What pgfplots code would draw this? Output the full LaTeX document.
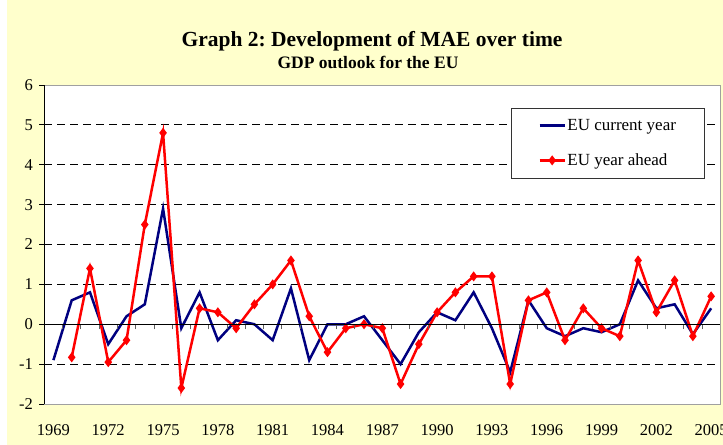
\documentclass[border=0pt]{standalone}
\usepackage{pgfplots}
\pgfplotsset{compat=1.18}
\usepackage{pgfplotstable}
\usepackage{fontspec}
\setmainfont{Liberation Serif}
\frenchspacing
\definecolor{bgyellow}{HTML}{FFFFCC}
\definecolor{navy}{HTML}{000080}
\definecolor{frgray}{HTML}{A0A0A0}

\pgfplotstableread{
year cur
1969 -0.9
1970 0.6
1971 0.8
1972 -0.5
1973 0.2
1974 0.5
1975 2.9
1976 -0.1
1977 0.8
1978 -0.4
1979 0.1
1980 0.0
1981 -0.4
1982 0.9
1983 -0.9
1984 0.0
1985 0.0
1986 0.2
1987 -0.4
1988 -1.0
1989 -0.2
1990 0.3
1991 0.1
1992 0.8
1993 -0.1
1994 -1.2
1995 0.6
1996 -0.1
1997 -0.3
1998 -0.1
1999 -0.2
2000 0.0
2001 1.1
2002 0.4
2003 0.5
2004 -0.25
2005 0.4
}\curtable

\pgfplotstableread{
year ahead
1970 -0.83
1971 1.4
1972 -0.95
1973 -0.4
1974 2.5
1975 4.8
1976 -1.6
1977 0.4
1978 0.3
1979 -0.1
1980 0.5
1981 1.0
1982 1.6
1983 0.2
1984 -0.7
1985 -0.1
1986 0.0
1987 -0.1
1988 -1.5
1989 -0.5
1990 0.3
1991 0.8
1992 1.2
1993 1.2
1994 -1.5
1995 0.6
1996 0.8
1997 -0.4
1998 0.4
1999 -0.1
2000 -0.3
2001 1.6
2002 0.3
2003 1.1
2004 -0.3
2005 0.7
}\aheadtable

\begin{document}
\begin{tikzpicture}
\path[use as bounding box] (0,0) rectangle (723bp,445bp);
\fill[bgyellow] (7bp,0) rectangle (723bp,445bp);
\node[anchor=base, inner sep=0pt, font=\bfseries\fontsize{21.5bp}{24bp}\selectfont] at (372bp,398.3bp) {Graph 2: Development of MAE over time};
\node[anchor=base, inner sep=0pt, font=\bfseries\fontsize{17.5bp}{20bp}\selectfont] at (368bp,376.7bp) {GDP outlook for the EU};

\begin{axis}[
  at={(44.3bp,41bp)}, anchor=south west,
  scale only axis, width=676bp, height=319bp,
  xmin=-0.5, xmax=36.5, ymin=-2, ymax=6,
  axis background/.style={fill=white},
  axis line style={draw=frgray, line width=1bp},
  xtick={0,3,...,36},
  xticklabels={1969,1972,1975,1978,1981,1984,1987,1990,1993,1996,1999,2002,2005},
  xticklabel style={anchor=base, yshift=-31bp},
  ytick={-1,1,2,3,4,5},
  yticklabels={},
  major tick length=0pt,
  ymajorgrids,
  major grid style={black, line width=0.8bp, dash pattern=on 8bp off 5bp},
  tick label style={font=\fontsize{16.5bp}{18bp}\selectfont},
  /pgf/number format/assume math mode=true,
  legend style={at={(rel axis cs:0.6904,0.9288)}, anchor=north west,
    draw=black!80, line width=0.8bp, fill=white,
    font=\fontsize{17bp}{19bp}\selectfont,
    inner xsep=27bp, inner ysep=9.5bp, row sep=19bp,
    nodes={inner sep=1.5bp},
    cells={anchor=west}},
  legend image code/.code={%
    \draw[#1, mark repeat=2, mark phase=2] plot coordinates {(0bp,0bp) (12.5bp,0bp) (25bp,0bp)};},
]
\addplot[navy, line width=2.5bp, no markers] table[x expr=\thisrow{year}-1969, y=cur] {\curtable};
\addlegendentry{EU current year}
\addplot[red, line width=2.5bp, mark=diamond*, mark size=3bp, mark options={solid}] table[x expr=\thisrow{year}-1969, y=ahead] {\aheadtable};
\addlegendentry{EU year ahead}
\end{axis}

\begin{axis}[
  at={(44.3bp,41bp)}, anchor=south west,
  scale only axis, width=676bp, height=319bp,
  xmin=-0.5, xmax=36.5, ymin=-2, ymax=6,
  axis x line=middle, axis y line=left,
  axis line style={black, line width=1bp, -},
  every inner x axis line/.append style={-},
  every outer y axis line/.append style={-},
  xtick={0.5,1.5,...,35.5},
  xticklabels={},
  ytick={-2,-1,...,6},
  tick align=outside,
  major tick length=5bp,
  tick style={black, line width=0.8bp},
  x tick style={frgray!60!black},
  tick label style={font=\fontsize{16.5bp}{18bp}\selectfont},
  yticklabel style={xshift=-3bp},
  /pgf/number format/assume math mode=true,
]
\end{axis}
\end{tikzpicture}
\end{document}
